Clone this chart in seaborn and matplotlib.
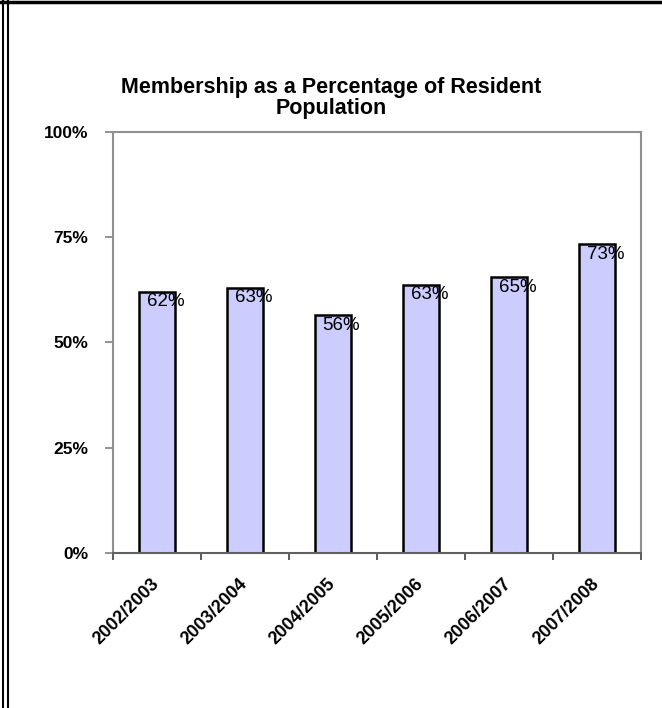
import seaborn as sns
import matplotlib.pyplot as plt
from matplotlib.lines import Line2D
import numpy as np

seasons = ['2002/2003', '2003/2004', '2004/2005', '2005/2006', '2006/2007', '2007/2008']
share = [0.62, 0.63, 0.565, 0.637, 0.655, 0.733]
labels = ['62%', '63%', '56%', '63%', '65%', '73%']
yticks = [0, 0.25, 0.5, 0.75, 1.0]
ytick_labels = ['0%', '25%', '50%', '75%', '100%']

sns.set_style('white')
plt.rcParams['font.family'] = ['Liberation Sans', 'DejaVu Sans']
plt.rcParams['text.color'] = 'black'
plt.rcParams['xtick.color'] = 'black'
plt.rcParams['ytick.color'] = 'black'

fig = plt.figure(figsize=(6.62, 7.08), dpi=100)
ax = fig.add_axes([0.1707, 0.2189, 0.7976, 0.5947])

sns.barplot(x=seasons, y=share, color='#CCCCFF', saturation=1, edgecolor='black',
            linewidth=1.8, width=0.4, ax=ax)

# value labels sit just inside the top of each bar
for i, (v, lab) in enumerate(zip(share, labels)):
    ax.annotate(lab, (i, v), xytext=(6, -1), textcoords='offset points',
                ha='center', va='top', fontsize=13.5, color='black')

ax.set_ylim(0, 1)
ax.set_xlim(-0.5, len(seasons) - 0.5)
ax.set_yticks(yticks)
ax.set_yticklabels(ytick_labels, fontsize=12.5, fontweight='bold')
ax.set_xticks(range(len(seasons)))
ax.set_xticklabels(seasons, fontsize=13, fontweight='bold', rotation=45,
                   ha='right', va='center', rotation_mode='anchor')
ax.set_xticks(np.arange(-0.5, len(seasons)), minor=True)
ax.tick_params(axis='x', which='major', bottom=False, pad=17, labelcolor='black')
ax.tick_params(axis='x', which='minor', bottom=True, length=5, width=1.2,
               color='#404040', direction='out')
ax.tick_params(axis='y', left=True, length=6, width=1.2, color='#808080',
               direction='out', pad=12, labelcolor='black')

for s in ['left', 'right', 'top']:
    ax.spines[s].set_color('#909090')
    ax.spines[s].set_linewidth(1.5)
ax.spines['bottom'].set_color('#606060')
ax.spines['bottom'].set_linewidth(1.5)
ax.set_xlabel('')
ax.set_ylabel('')

fig.text(0.5, 0.861, 'Membership as a Percentage of Resident\nPopulation', ha='center',
         va='center', fontsize=15.5, fontweight='bold', linespacing=1.0, color='black')

# outer frame of the page
fig.add_artist(Line2D([0, 1], [0.997, 0.997], transform=fig.transFigure, color='black', lw=2.5))
fig.add_artist(Line2D([0.005, 0.005], [0, 1], transform=fig.transFigure, color='black', lw=1.5))
fig.add_artist(Line2D([0.012, 0.012], [0, 1], transform=fig.transFigure, color='black', lw=1.5))

fig.savefig('out.png', dpi=100)
